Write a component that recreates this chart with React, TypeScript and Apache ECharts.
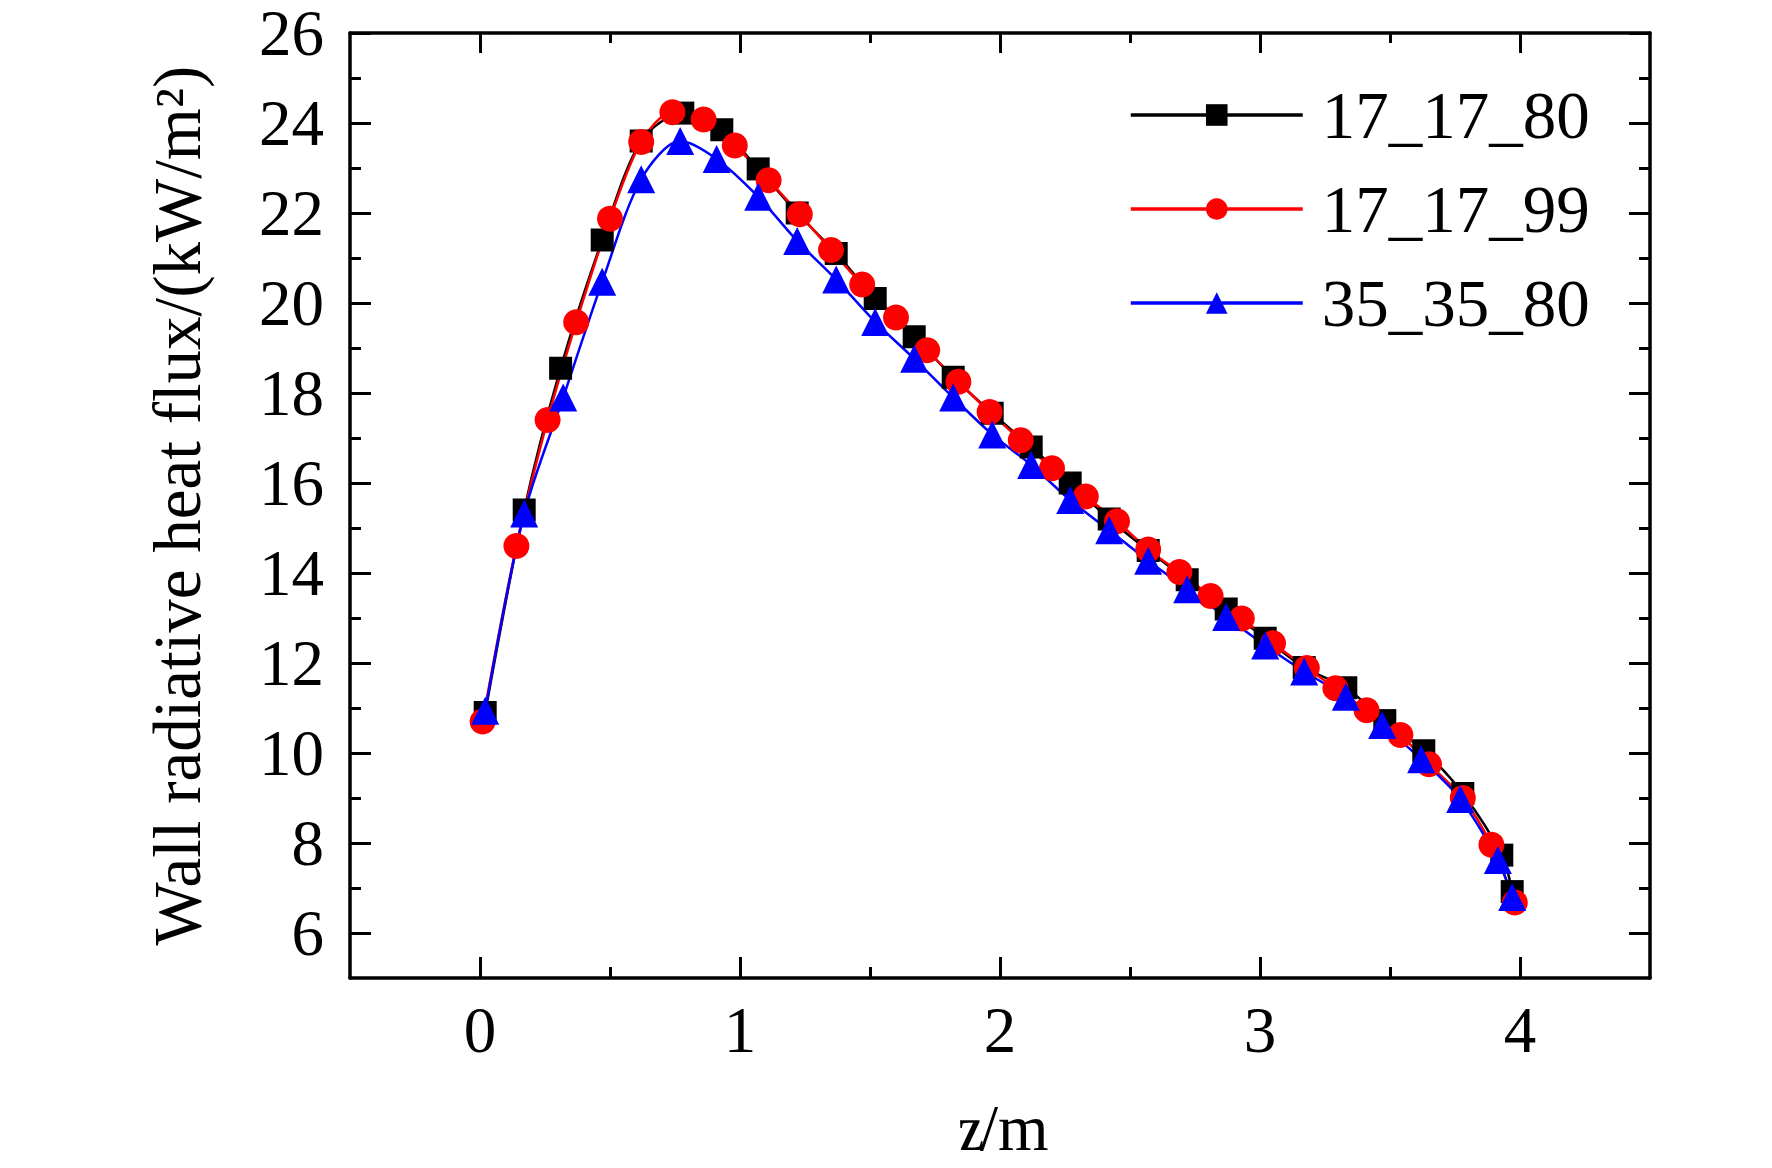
import React, { useEffect, useRef } from "react";
import * as echarts from "echarts";

const FONT = "Liberation Serif";

const seriesNames = ["17_17_80", "17_17_99", "35_35_80"];

const zBlack = [0.02, 0.17, 0.31, 0.47, 0.62, 0.78, 0.93, 1.07, 1.22, 1.37, 1.52, 1.67, 1.82, 1.97, 2.12, 2.27, 2.42, 2.57, 2.72, 2.87, 3.02, 3.17, 3.33, 3.48, 3.63, 3.78, 3.93, 3.97];
const qBlack = [10.9, 15.4, 18.55, 21.4, 23.6, 24.22, 23.85, 22.98, 22.0, 21.1, 20.1, 19.25, 18.35, 17.55, 16.8, 16.0, 15.2, 14.5, 13.85, 13.2, 12.55, 11.9, 11.45, 10.72, 10.05, 9.1, 7.73, 6.92];

const zRed = [0.01, 0.14, 0.26, 0.37, 0.5, 0.62, 0.74, 0.86, 0.98, 1.11, 1.23, 1.35, 1.47, 1.6, 1.72, 1.84, 1.96, 2.08, 2.2, 2.33, 2.45, 2.57, 2.69, 2.81, 2.93, 3.05, 3.18, 3.29, 3.41, 3.54, 3.65, 3.78, 3.89, 3.98];
const qRed = [10.7, 14.6, 17.4, 19.57, 21.87, 23.58, 24.24, 24.08, 23.5, 22.73, 21.97, 21.18, 20.41, 19.68, 18.95, 18.25, 17.58, 16.95, 16.33, 15.7, 15.15, 14.52, 14.02, 13.49, 12.99, 12.44, 11.89, 11.44, 10.95, 10.4, 9.75, 9.0, 7.96, 6.68];

const zBlue = [0.02, 0.17, 0.32, 0.47, 0.62, 0.77, 0.91, 1.07, 1.22, 1.37, 1.52, 1.67, 1.82, 1.97, 2.12, 2.27, 2.42, 2.57, 2.72, 2.87, 3.02, 3.17, 3.33, 3.47, 3.62, 3.77, 3.915, 3.97];
const qBlue = [10.94, 15.32, 17.9, 20.47, 22.75, 23.6, 23.2, 22.36, 21.38, 20.52, 19.58, 18.76, 17.9, 17.08, 16.4, 15.62, 14.95, 14.27, 13.64, 13.02, 12.39, 11.81, 11.25, 10.62, 9.86, 8.98, 7.62, 6.8];

const xMajorTicks = [0, 1, 2, 3, 4];
const xMinorTicks = [0.5, 1.5, 2.5, 3.5];
const yMajorTicks = [6, 8, 10, 12, 14, 16, 18, 20, 22, 24, 26];
const yMinorTicks = [7, 9, 11, 13, 15, 17, 19, 21, 23, 25];

const X_MIN = -0.5;
const X_MAX = 4.5;
const Y_MIN = 5;
const Y_MAX = 26;

const xNameVar = "z";
const xNameUnit = "/m";
const yName = "Wall radiative heat flux/(kW/m²)";

function zip(xs: number[], ys: number[]) {
  return xs.map((x, i) => [x, ys[i]]);
}

export default function App() {
  const ref = useRef<HTMLDivElement>(null);

  useEffect(() => {
    if (!ref.current) return;
    const chart = echarts.init(ref.current, null, { renderer: "svg" });

    const gridRect = { left: 350, top: 33, width: 1300, height: 945 };
    const axisLine = { show: true, onZero: false, lineStyle: { color: "#000", width: 3.5 } };
    const noLine = { show: false, onZero: false };
    const tickStyle = { color: "#000", width: 3 };
    const labelStyle = { color: "#000", fontFamily: FONT, fontSize: 65 };

    const xAxes: any[] = [];
    const yAxes: any[] = [];
    // grid 0: major ticks, labels
    xAxes.push({
      type: "value", gridIndex: 0, position: "bottom", min: X_MIN, max: X_MAX, interval: 0.5,
      axisLine, splitLine: { show: false },
      axisTick: { show: true, inside: true, length: 21, lineStyle: tickStyle, customValues: xMajorTicks },
      axisLabel: { show: true, margin: 22, ...labelStyle, lineHeight: 60, customValues: xMajorTicks },
    });
    xAxes.push({
      type: "value", gridIndex: 0, position: "top", min: X_MIN, max: X_MAX, interval: 0.5,
      axisLine, splitLine: { show: false },
      axisTick: { show: true, inside: true, length: 20, lineStyle: tickStyle, customValues: xMajorTicks },
      axisLabel: { show: false },
    });
    yAxes.push({
      type: "value", gridIndex: 0, position: "left", min: Y_MIN, max: Y_MAX, interval: 1,
      axisLine, splitLine: { show: false },
      axisTick: { show: true, inside: true, length: 21, lineStyle: tickStyle, customValues: yMajorTicks },
      axisLabel: { show: true, margin: 26, ...labelStyle, lineHeight: 46, customValues: yMajorTicks },
      name: yName, nameLocation: "middle", nameRotate: 90, nameGap: 140,
      nameTextStyle: { ...labelStyle, fontSize: 67 },
    });
    yAxes.push({
      type: "value", gridIndex: 0, position: "right", min: Y_MIN, max: Y_MAX, interval: 1,
      axisLine, splitLine: { show: false },
      axisTick: { show: true, inside: true, length: 21, lineStyle: tickStyle, customValues: yMajorTicks },
      axisLabel: { show: false },
    });
    // grid 1: minor ticks only
    xAxes.push({
      type: "value", gridIndex: 1, position: "bottom", min: X_MIN, max: X_MAX, interval: 0.5,
      axisLine: noLine, splitLine: { show: false }, axisLabel: { show: false },
      axisTick: { show: true, inside: true, length: 11, lineStyle: tickStyle, customValues: xMinorTicks },
    });
    xAxes.push({
      type: "value", gridIndex: 1, position: "top", min: X_MIN, max: X_MAX, interval: 0.5,
      axisLine: noLine, splitLine: { show: false }, axisLabel: { show: false },
      axisTick: { show: true, inside: true, length: 10, lineStyle: tickStyle, customValues: xMinorTicks },
    });
    yAxes.push({
      type: "value", gridIndex: 1, position: "left", min: Y_MIN, max: Y_MAX, interval: 1,
      axisLine: noLine, splitLine: { show: false }, axisLabel: { show: false },
      axisTick: { show: true, inside: true, length: 11, lineStyle: tickStyle, customValues: yMinorTicks },
    });
    yAxes.push({
      type: "value", gridIndex: 1, position: "right", min: Y_MIN, max: Y_MAX, interval: 1,
      axisLine: noLine, splitLine: { show: false }, axisLabel: { show: false },
      axisTick: { show: true, inside: true, length: 11, lineStyle: tickStyle, customValues: yMinorTicks },
    });

    const mk = (name: string, data: number[][], color: string, symbol: string, size: number) => ({
      name,
      type: "line",
      xAxisIndex: 0,
      yAxisIndex: 0,
      data,
      smooth: 0.3,
      symbol,
      symbolSize: size,
      lineStyle: { color, width: 2.5 },
      itemStyle: { color },
      emphasis: { disabled: true },
    });

    chart.setOption({
      animation: false,
      backgroundColor: "#fff",
      grid: [
        { ...gridRect, containLabel: false },
        { ...gridRect, containLabel: false },
      ],
      xAxis: xAxes,
      yAxis: yAxes,
      graphic: [
        {
          type: "text",
          x: 982,
          y: 1128,
          skewX: 0.22,
          style: {
            text: xNameVar,
            font: "italic 65px 'Liberation Serif'",
            fill: "#000",
            align: "right",
            verticalAlign: "middle",
          },
        },
        {
          type: "text",
          x: 980,
          y: 1128,
          style: {
            text: xNameUnit,
            font: "65px 'Liberation Serif'",
            fill: "#000",
            align: "left",
            verticalAlign: "middle",
          },
        },
      ],
      legend: {
        orient: "vertical",
        left: 1124,
        top: 76,
        itemWidth: 172,
        itemHeight: 27,
        itemGap: 26,
        lineStyle: { width: 3.5 },
        textStyle: { ...labelStyle, fontSize: 67, padding: [0, 0, 0, 14], lineHeight: 68 },
        data: seriesNames,
      },
      series: [
        mk(seriesNames[0], zip(zBlack, qBlack), "#000000", "rect", 23),
        mk(seriesNames[1], zip(zRed, qRed), "#ff0000", "circle", 26),
        mk(seriesNames[2], zip(zBlue, qBlue), "#0000ff", "triangle", 28),
      ],
    });

    return () => chart.dispose();
  }, []);

  return (
    <div
      ref={ref}
      style={{ position: "fixed", left: 0, top: 0, width: 1772, height: 1168, background: "#fff" }}
    />
  );
}
